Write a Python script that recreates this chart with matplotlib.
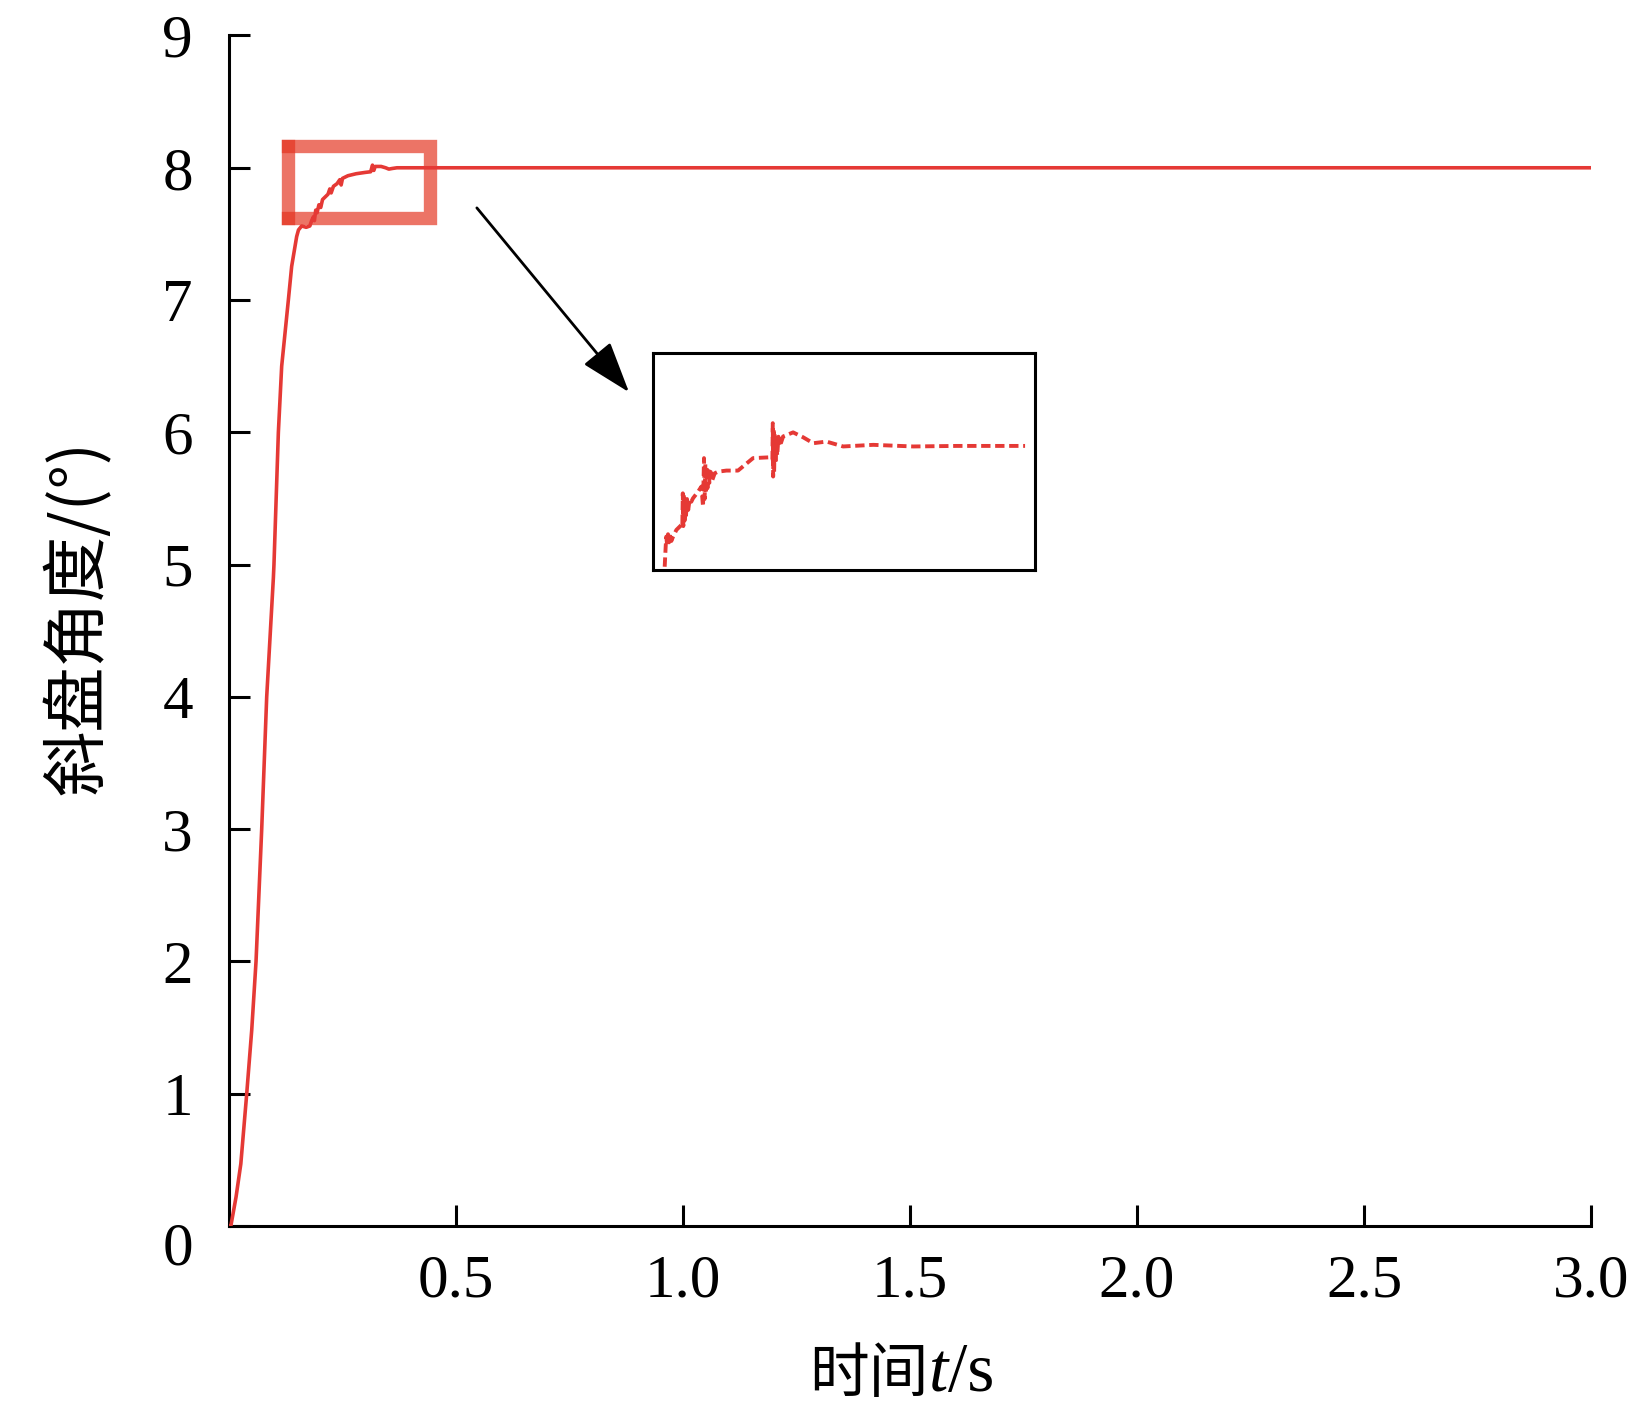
import numpy as np
import matplotlib
matplotlib.use('Agg')
import matplotlib.pyplot as plt
from matplotlib.transforms import ScaledTranslation

plt.rcParams['font.family'] = ['Liberation Serif', 'Noto Sans CJK SC']

# main response curve (time in s, swash plate angle in degrees)
t = [0.0, 0.004, 0.0155, 0.026, 0.039, 0.050, 0.0595, 0.062, 0.072, 0.083,
     0.0977, 0.099, 0.1087, 0.116, 0.1307, 0.138, 0.149, 0.153, 0.160, 0.170,
     0.178, 0.182, 0.186, 0.188, 0.191, 0.194, 0.198, 0.202, 0.206, 0.212,
     0.218, 0.222, 0.225, 0.230, 0.238, 0.244, 0.247, 0.250, 0.262, 0.280,
     0.300, 0.312, 0.316, 0.319, 0.322, 0.335, 0.345, 0.352, 0.360, 0.370, 3.0]
angle = [0.0, 0.0, 0.22, 0.47, 1.0, 1.48, 2.0, 2.2, 3.0, 4.0,
         4.9, 5.0, 6.0, 6.5, 7.0, 7.255, 7.48, 7.53, 7.56, 7.55,
         7.56, 7.60, 7.63, 7.60, 7.68, 7.66, 7.72, 7.70, 7.76, 7.78,
         7.80, 7.84, 7.81, 7.86, 7.88, 7.91, 7.87, 7.92, 7.94, 7.955,
         7.965, 7.97, 8.02, 7.98, 8.01, 8.01, 8.0, 7.99, 7.995, 8.0, 8.0]

# enlarged view of the settling part (inset)
inset_t = [0.1495, 0.1503, 0.1508, 0.1515, 0.1522, 0.1530, 0.1538, 0.1549, 0.1562,
           0.1590, 0.1630,
           0.1638, 0.1642, 0.1646, 0.1651, 0.1656, 0.1662, 0.1668, 0.1676, 0.1686,
           0.1698, 0.1711, 0.1725,
           0.1766, 0.1793,
           0.1806, 0.1814, 0.1819, 0.1825, 0.1830, 0.1836, 0.1842, 0.1850, 0.1858,
           0.1868, 0.1882, 0.1901, 0.1928,
           0.1996, 0.2090, 0.2212, 0.2348,
           0.2369, 0.2372, 0.2375, 0.2379, 0.2383, 0.2388, 0.2394, 0.2400, 0.2408,
           0.2418, 0.2429, 0.2456,
           0.2537, 0.2618, 0.2700, 0.2808, 0.2943, 0.3187, 0.3512, 0.3864, 0.4134,
           0.4419]
inset_angle = [7.550, 7.624, 7.661, 7.630, 7.670, 7.640, 7.673, 7.645, 7.660,
               7.686, 7.704,
               7.698, 7.821, 7.700, 7.810, 7.720, 7.800, 7.740, 7.800, 7.760,
               7.800, 7.790, 7.803,
               7.827, 7.846,
               7.772, 7.951, 7.800, 7.930, 7.820, 7.920, 7.840, 7.910, 7.860,
               7.900, 7.871, 7.895, 7.901,
               7.905, 7.905, 7.951, 7.954,
               7.945, 8.080, 7.883, 8.060, 7.900, 8.040, 7.930, 8.020, 7.960,
               8.030, 7.994, 8.031,
               8.046, 8.028, 8.006, 8.012, 7.994, 8.000, 7.994, 7.996, 7.996,
               7.996]

xticks = [0.5, 1.0, 1.5, 2.0, 2.5, 3.0]
xticklabels = ['0.5', '1.0', '1.5', '2.0', '2.5', '3.0']
yticks = list(range(10))

red = '#e53935'

fig = plt.figure(figsize=(16.3, 14.2), dpi=100)
ax = fig.add_axes([0.1405, 0.1366, 0.8356, 0.8384])

ax.plot(t, angle, color=red, lw=2.6, zorder=3)

# zoom window marker
bx0, bx1, by0, by1 = 0.1306, 0.4427, 7.617, 8.166
box_c = '#e4321e'
ax.plot([bx0, bx0], [by0, by1], color=box_c, alpha=0.68, lw=9.6,
        solid_capstyle='projecting', zorder=2)
ax.plot([bx0, bx1, bx1, bx0], [by1, by1, by0, by0], color=box_c, alpha=0.68,
        lw=9.6, solid_capstyle='projecting', solid_joinstyle='miter', zorder=2)

ax.annotate('', xy=(0.885, 6.287), xytext=(0.542, 7.713),
            arrowprops=dict(arrowstyle='-|>,head_length=0.8,head_width=0.27',
                            color='black', lw=2.0, mutation_scale=40))

ax.set_xlim(0, 3.0)
ax.set_ylim(0, 9)
ax.set_xticks(xticks)
ax.set_xticklabels(xticklabels)
ax.set_yticks(yticks)
ax.spines['top'].set_visible(False)
ax.spines['right'].set_visible(False)
for s in ['left', 'bottom']:
    ax.spines[s].set_linewidth(2.2)
ax.tick_params(direction='in', length=15, width=2.2, labelsize=44)
ax.tick_params(axis='x', pad=20)
ax.tick_params(axis='y', pad=26)

# the "0" sits a little below the axis line
lab0 = ax.get_yticklabels()[0]
lab0.set_transform(lab0.get_transform() + ScaledTranslation(0, -0.17, fig.dpi_scale_trans))

# axis titles
fig.text(0.048, 0.565, '斜盘角度/(°)', rotation=90, ha='center', va='center',
         fontsize=47, family=['Noto Sans CJK SC', 'DejaVu Sans'])
t1 = fig.text(0.4965, 0.031, '时间', ha='left', va='center', fontsize=43,
              family=['Noto Sans CJK SC'])
t2 = ax.annotate('t', xy=(1, 0), xycoords=t1, va='bottom', fontsize=50,
                 style='italic', family='Liberation Serif')
ax.annotate('/s', xy=(1, 0), xycoords=t2, va='bottom', fontsize=50,
            family='Liberation Serif')

# inset
axin = fig.add_axes([0.4006, 0.5986, 0.2344, 0.1528])
axin.plot(inset_t, inset_angle, color=red, lw=2.8, dashes=(2.4, 1.2))
axin.set_xlim(0.14, 0.45)
axin.set_ylim(7.538, 8.339)
axin.set_xticks([])
axin.set_yticks([])
for s in axin.spines.values():
    s.set_linewidth(2.2)

fig.savefig('out.png', dpi=100)
